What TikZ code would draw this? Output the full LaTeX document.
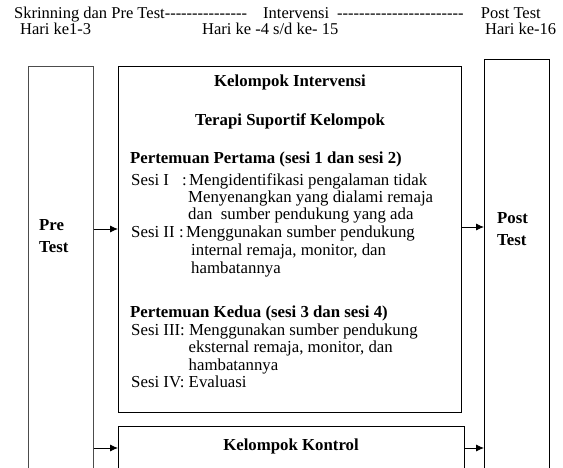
\documentclass[tikz,border=0pt]{standalone}
\usepackage{fontspec}
\setmainfont{Liberation Serif}
\usetikzlibrary{arrows.meta}
\newcommand\hyrun[1]{\foreach \i in {1,...,#1}{-\kern0pt}}
\tikzset{
  box/.style={draw=black, line width=0.8pt, inner sep=0pt, anchor=north west},
  txt/.style={inner sep=0pt, anchor=base west, font=\fontsize{16.8}{17.5}\selectfont},
  htxt/.style={inner sep=0pt, anchor=base west, font=\fontsize{16.5}{17.5}\selectfont},
  ctxt/.style={inner sep=0pt, anchor=base, font=\fontsize{16.8}{17.5}\selectfont\bfseries},
  btxt/.style={txt, font=\fontsize{16.8}{17.5}\selectfont\bfseries},
  arr/.style={-{Latex[length=8pt,width=7pt]}, line width=0.8pt}
}
\begin{document}
\begin{tikzpicture}[x=1pt,y=-1pt]
\useasboundingbox (0,0) rectangle (563,468);
% header
\node[htxt] (h1) at (14,19) {Skrinning dan Pre Test\hyrun{15}};
\node[htxt] (h1b) at (263,19) {Intervensi};
\node[htxt] (h1c) at (337,19) {\hyrun{23}};
\node[htxt, anchor=base east] (h1d) at (541,19) {Post Test};
\node[htxt] (h2) at (20,35) {Hari ke1-3};
\node[htxt] (h3) at (202,35) {Hari ke -4 s/d ke- 15};
\node[htxt] (h4) at (485,35) {Hari ke-16};
% boxes
\node[box, draw=black!70, minimum width=65pt, minimum height=412pt] (pre) at (28,66) {};
\node[box, minimum width=343pt, minimum height=346pt] (int) at (118,66) {};
\node[box, minimum width=65pt, minimum height=420pt] (post) at (484,59) {};
\node[box, minimum width=346pt, minimum height=60pt] (kon) at (118,426) {};
% pre / post labels
\node[btxt] (pre1) at (39,231) {Pre};
\node[btxt] (pre2) at (39,253) {Test};
\node[btxt] (post1) at (497,224) {Post};
\node[btxt] (post2) at (497,246) {Test};
% intervention text
\node[ctxt] (t1) at (290,87) {Kelompok Intervensi};
\node[ctxt] (t2) at (290,126) {Terapi Suportif Kelompok};
\node[btxt] (p1) at (130,164) {Pertemuan Pertama (sesi 1 dan sesi 2)};
\node[txt] (s1) at (131,186) {Sesi I};
\node[txt] (s1k) at (182,186) {:};
\node[txt] (s1a) at (189,186) {Mengidentifikasi pengalaman tidak};
\node[txt] (s1b) at (188,203) {Menyenangkan yang dialami remaja};
\node[txt] (s1c) at (188,220) {dan \ sumber pendukung yang ada};
\node[txt] (s2) at (131,238) {Sesi II};
\node[txt] (s2k) at (179,238) {:};
\node[txt] (s2a) at (186,238) {Menggunakan sumber pendukung};
\node[txt] (s2b) at (191,256) {internal remaja, monitor, dan};
\node[txt] (s2c) at (191,273) {hambatannya};
\node[btxt] (p2) at (130,317) {Pertemuan Kedua (sesi 3 dan sesi 4)};
\node[txt] (s3) at (131,335) {Sesi III: Menggunakan sumber pendukung};
\node[txt] (s3b) at (188.5,352.5) {eksternal remaja, monitor, dan};
\node[txt] (s3c) at (188.5,370) {hambatannya};
\node[txt] (s4) at (131,387.5) {Sesi IV: Evaluasi};
\node[ctxt] (k1) at (291,450) {Kelompok Kontrol};
% arrows
\coordinate (r1) at (0,229);
\coordinate (r2) at (0,227);
\coordinate (r3) at (0,448);
\draw[arr] (pre.east |- r1) -- (int.west |- r1);
\draw[arr] (int.east |- r2) -- (post.west |- r2);
\draw[arr] (pre.east |- r3) -- (kon.west |- r3);
\draw[arr] (kon.east |- r3) -- (post.west |- r3);
\end{tikzpicture}
\end{document}
